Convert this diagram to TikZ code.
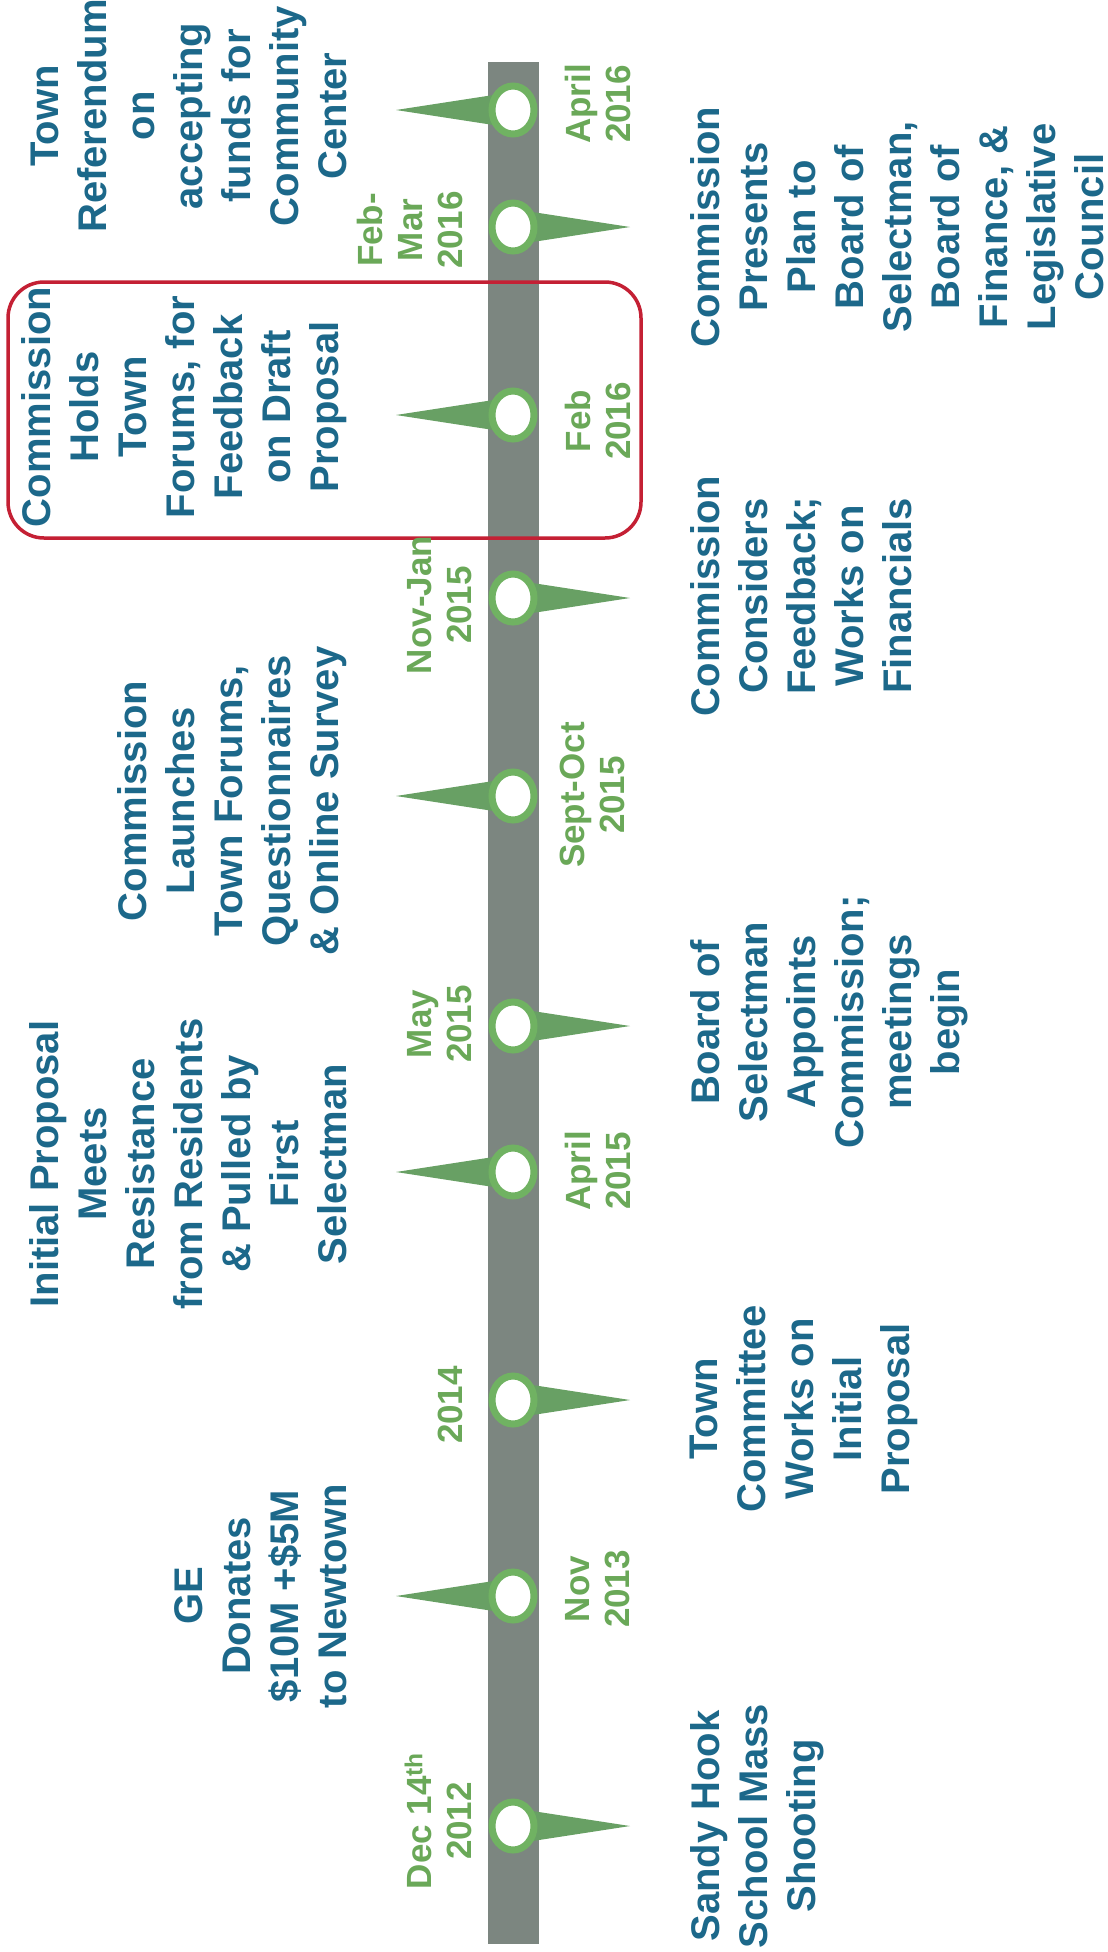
\documentclass[tikz,border=0pt]{standalone}
\usepackage{fontspec}
\setmainfont{Liberation Sans}
\usetikzlibrary{shapes.geometric}

\definecolor{evblue}{RGB}{28,104,138}
\definecolor{dategreen}{RGB}{106,168,88}
\definecolor{pingreen}{RGB}{104,160,100}
\definecolor{ringgreen}{RGB}{112,178,98}
\definecolor{bargray}{RGB}{124,134,128}
\definecolor{boxred}{RGB}{196,32,52}

\begin{document}
\begin{tikzpicture}[x=1pt, y=-1pt,
    event/.style={rotate=90, align=center, inner sep=0pt, text=evblue,
      font=\fontsize{40}{48}\selectfont\bfseries},
    date/.style={rotate=90, align=center, inner sep=0pt, text=dategreen,
      font=\fontsize{35}{40}\selectfont\bfseries},
    dot/.style={ellipse, draw=ringgreen, line width=7pt, fill=white,
      minimum width=42pt, minimum height=48pt, inner sep=0pt},
    pin/.style={fill=pingreen}]

    \useasboundingbox (0,0) rectangle (1108,1952);
    \fill[white] (0,0) rectangle (1108,1952);

    % timeline bar
    \fill[bargray] (488,62) rectangle (539,1944);

    % highlighted event
    \draw[boxred, line width=3.5pt, rounded corners=36pt] (8,282) rectangle (641,538);

    % marker positions
    \coordinate (m2012) at (513,1826);
    \coordinate (m2013) at (513,1596);
    \coordinate (m2014) at (513,1400);
    \coordinate (mApr15) at (513,1172);
    \coordinate (mMay15) at (513,1026);
    \coordinate (mSep15) at (513,796);
    \coordinate (mNov15) at (513,598);
    \coordinate (mFeb16) at (513,415);
    \coordinate (mMar16) at (513,227);
    \coordinate (mApr16) at (513,110);

    % pointers, right side
    \fill[pin] (m2012) ++(0,-18) -- ++(117,18) -- ++(-117,18) -- cycle;
    \fill[pin] (m2014) ++(0,-18) -- ++(117,18) -- ++(-117,18) -- cycle;
    \fill[pin] (mMay15) ++(0,-18) -- ++(117,18) -- ++(-117,18) -- cycle;
    \fill[pin] (mNov15) ++(0,-18) -- ++(117,18) -- ++(-117,18) -- cycle;
    \fill[pin] (mMar16) ++(0,-18) -- ++(117,18) -- ++(-117,18) -- cycle;
    % pointers, left side
    \fill[pin] (m2013) ++(0,-18) -- ++(-117,18) -- ++(117,18) -- cycle;
    \fill[pin] (mApr15) ++(0,-18) -- ++(-117,18) -- ++(117,18) -- cycle;
    \fill[pin] (mSep15) ++(0,-18) -- ++(-117,18) -- ++(117,18) -- cycle;
    \fill[pin] (mFeb16) ++(0,-18) -- ++(-117,18) -- ++(117,18) -- cycle;
    \fill[pin] (mApr16) ++(0,-18) -- ++(-117,18) -- ++(117,18) -- cycle;

    % markers
    \node[dot] (d2012) at (m2012) {};
    \node[dot] (d2013) at (m2013) {};
    \node[dot] (d2014) at (m2014) {};
    \node[dot] (dApr15) at (mApr15) {};
    \node[dot] (dMay15) at (mMay15) {};
    \node[dot] (dSep15) at (mSep15) {};
    \node[dot] (dNov15) at (mNov15) {};
    \node[dot] (dFeb16) at (mFeb16) {};
    \node[dot] (dMar16) at (mMar16) {};
    \node[dot] (dApr16) at (mApr16) {};

    % dates
    \node[date, anchor=south] (t2012) at (472,1821) {Dec 14\textsuperscript{th}\\2012};
    \node[date, anchor=north] (t2013) at (565,1589) {Nov\\2013};
    \node[date, anchor=south] (t2014) at (463,1405) {2014};
    \node[date, anchor=north] (tApr15) at (565,1171) {April\\2015};
    \node[date, anchor=south] (tMay15) at (472,1024) {May\\2015};
    \node[date, anchor=north] (tSep15) at (560,795) {Sept-Oct\\2015};
    \node[date, anchor=south] (tNov15) at (472,605) {Nov-Jan\\2015};
    \node[date, anchor=north] (tFeb16) at (565,421) {Feb\\2016};
    \node[date, anchor=south] (tMar16) at (463,230) {Feb-\\Mar\\2016};
    \node[date, anchor=north] (tApr16) at (565,104) {April\\2016};

    % events
    \node[event, anchor=north] (e2012) at (690,1826) {Sandy Hook\\School Mass\\Shooting};
    \node[event, anchor=south] (e2013) at (347,1596) {GE\\Donates\\\$10M +\$5M\\to Newtown};
    \node[event, anchor=north] (e2014) at (690,1409) {Town\\Committee\\Works on\\Initial\\Proposal};
    \node[event, anchor=south] (eApr15) at (347,1164) {Initial Proposal\\Meets\\Resistance\\from Residents\\\& Pulled by\\First\\Selectman};
    \node[event, anchor=north] (eMay15) at (690,1022) {Board of\\Selectman\\Appoints\\Commission;\\meetings\\begin};
    \node[event, anchor=south] (eSep15) at (347,801) {Commission\\Launches\\Town Forums,\\Questionnaires\\\& Online Survey};
    \node[event, anchor=north] (eNov15) at (690,596) {Commission\\Considers\\Feedback;\\Works on\\Financials};
    \node[event, anchor=south] (eFeb16) at (347,407) {Commission\\Holds\\Town\\Forums, for\\Feedback\\on Draft\\Proposal};
    \node[event, anchor=north] (eMar16) at (690,227) {Commission\\Presents\\Plan to\\Board of\\Selectman,\\Board of\\Finance, \&\\Legislative\\Council};
    \node[event, anchor=south] (eApr16) at (347,116) {Town\\Referendum\\on\\accepting\\funds for\\Community\\Center};
\end{tikzpicture}
\end{document}
